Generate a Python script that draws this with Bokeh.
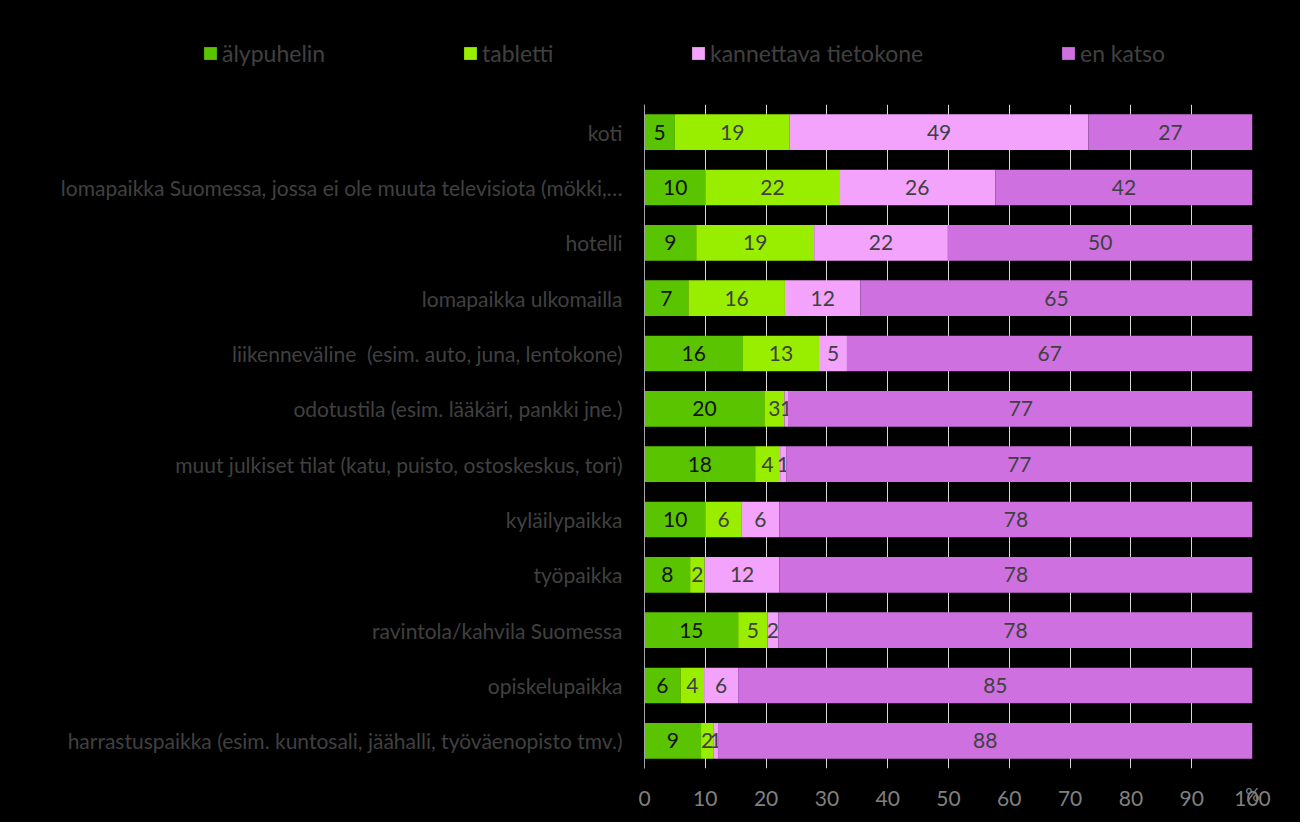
from bokeh.plotting import figure
from bokeh.models import ColumnDataSource, FactorRange, Legend, LegendItem
from bokeh.layouts import column, row
from bokeh.core.properties import value
from bokeh.embed import file_html
from bokeh.resources import INLINE
import numpy as np

categories = [
    "koti",
    "lomapaikka Suomessa, jossa ei ole muuta televisiota (mökki,…",
    "hotelli",
    "lomapaikka ulkomailla",
    "liikenneväline\u00a0 (esim. auto, juna, lentokone)",
    "odotustila (esim. lääkäri, pankki jne.)",
    "muut julkiset tilat (katu, puisto, ostoskeskus, tori)",
    "kyläilypaikka",
    "työpaikka",
    "ravintola/kahvila Suomessa",
    "opiskelupaikka",
    "harrastuspaikka (esim. kuntosali, jäähalli, työväenopisto tmv.)",
]
series_names = ["älypuhelin", "tabletti", "kannettava tietokone", "en katso"]
alypuhelin = [5.0, 10.1, 8.5, 7.2, 16.2, 19.7, 18.2, 10.1, 7.5, 15.4, 5.9, 9.3]
tabletti = [18.9, 21.9, 19.4, 15.9, 12.5, 3.3, 4.1, 5.8, 2.4, 4.8, 3.9, 2.0]
kannettava = [49.1, 25.7, 22.0, 12.4, 4.6, 0.6, 1.0, 6.3, 12.3, 1.8, 5.6, 0.8]
en_katso = [27.0, 42.3, 50.1, 64.5, 66.7, 76.6, 76.7, 77.8, 77.8, 78.0, 84.6, 87.9]
x_ticks = [0, 10, 20, 30, 40, 50, 60, 70, 80, 90, 100]

colors = ["#5BC400", "#99EE00", "#F4A3FC", "#CE70E0"]
label_colors = ["#111111", "#404040", "#404040", "#404040"]
series = [alypuhelin, tabletti, kannettava, en_katso]

FONT = "Lato"

# ---- main chart ----
p = figure(
    width=1300, height=718,
    y_range=FactorRange(*list(reversed(categories))),
    x_range=(0, 100),
    output_backend="svg", toolbar_location=None,
    min_border_left=644, min_border_right=48, min_border_top=0, min_border_bottom=54,
    background_fill_color="black", border_fill_color="black",
)
p.outline_line_color = None

left = np.zeros(len(categories))
for vals, col, lc in zip(series, colors, label_colors):
    v = np.array(vals)
    right = left + v
    src = ColumnDataSource(dict(y=categories, left=left, right=right,
                                xc=left + v / 2, lab=[str(int(x + 0.5)) for x in v]))
    p.hbar(y="y", left="left", right="right", height=0.646, source=src,
           fill_color=col, line_color=None)
    p.text(x="xc", y="y", text="lab", source=src, text_align="center",
           text_baseline="middle", text_color=lc, text_font_size="21px",
           text_font=value(FONT))
    left = right

p.xaxis.ticker = x_ticks
p.xaxis.axis_line_color = None
p.xaxis.major_tick_line_color = None
p.xaxis.major_tick_out = 0
p.xaxis.major_tick_in = 0
p.xaxis.minor_tick_line_color = None
p.xaxis.major_label_text_color = "#808080"
p.xaxis.major_label_text_font = FONT
p.xaxis.major_label_text_font_size = "21px"
p.xaxis.major_label_standoff = 22
p.xaxis.axis_label = "%"
p.xaxis.axis_label_text_color = "#808080"
p.xaxis.axis_label_text_font = FONT
p.xaxis.axis_label_text_font_size = "18px"
p.xaxis.axis_label_text_font_style = "normal"
p.xaxis.axis_label_align = "end"
p.xaxis.axis_label_standoff = -26

p.yaxis.axis_line_color = "#a6a6a6"
p.yaxis.major_tick_line_color = None
p.yaxis.major_tick_out = 0
p.yaxis.major_tick_in = 0
p.yaxis.minor_tick_line_color = None
p.yaxis.major_label_text_color = "#404040"
p.yaxis.major_label_text_font = FONT
p.yaxis.major_label_text_font_size = "21px"
p.yaxis.major_label_standoff = 22

p.xgrid.grid_line_color = "#d9d9d9"
p.ygrid.grid_line_color = None

# ---- legend strip ----
lg = figure(
    width=1300, height=104, x_range=(0, 1), y_range=(0, 1),
    output_backend="svg", toolbar_location=None,
    x_axis_location=None, y_axis_location=None,
    min_border=0, background_fill_color="black", border_fill_color="black",
)
lg.outline_line_color = None
lg.outline_line_alpha = 0
lg.xgrid.grid_line_color = None
lg.ygrid.grid_line_color = None
keys = []
for col in colors:
    # legend key renderers: a single off-range bar, only used for the legend swatch
    keys.append(lg.hbar(y=[-5], left=[-5], right=[-4], height=0.5,
                        fill_color=col, line_color=None))

legend_x = [202, 462, 690, 1060]
for name, r, lx in zip(series_names, keys, legend_x):
    leg = Legend(items=[LegendItem(label=name, renderers=[r])],
                 location=(lx, 37), orientation="horizontal",
                 background_fill_alpha=0, border_line_color=None,
                 padding=0, margin=0, spacing=0,
                 glyph_width=16, glyph_height=16, label_standoff=4, label_height=16,
                 label_text_font=FONT, label_text_font_size="23px",
                 label_text_color="#404040")
    lg.add_layout(leg, "center")

layout = column(row(lg, styles={"background-color": "black"}), p,
                styles={"background-color": "black"})
open("out.html", "w").write(file_html(layout, INLINE))
